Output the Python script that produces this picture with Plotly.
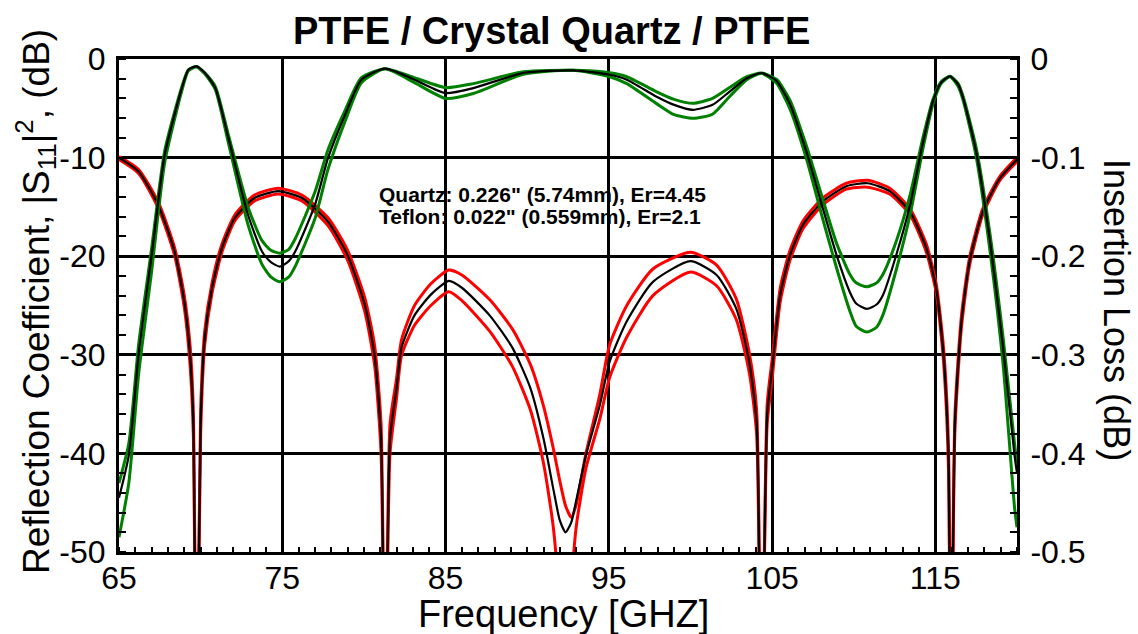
import plotly.graph_objects as go

# ---------------- data ----------------
# Reflection coefficient |S11|^2 (dB), left axis
REF_F = [65.0, 66.2, 67.4, 68.4, 69.0, 69.35, 69.55, 69.75, 70.0, 70.25, 70.7, 71.3, 72.1, 73.3,
         74.75, 76.2, 77.8, 79.0, 80.05, 80.65, 81.05, 81.3, 81.6, 82.0, 82.3, 83.1, 84.1, 85.2,
         86.0, 87.7, 89.1, 90.2, 91.0, 91.6, 92.0, 92.35, 92.7, 93.0, 93.6, 94.45, 95.05, 96.1, 97.7, 100.0,
         101.6, 102.8, 103.6, 104.05, 104.35, 104.7, 105.0, 105.5, 106.1, 106.9, 108.1, 109.55,
         110.85, 112.2, 113.45, 114.45, 115.05, 115.5, 115.8, 115.95, 116.2, 116.6, 117.1, 117.9,
         118.95, 120.0]
REF_MID = [-10.0, -11.4, -14.8, -19.5, -24.6, -30.0, -36.8, -70, -36.8, -28.3, -23.2, -19.2, -16.1, -14.1,
           -13.4, -14.1, -16.5, -19.9, -24.9, -30.0, -38.5, -70, -38.5, -33.4, -29.3, -26.0, -23.9, -22.5,
           -23.2, -26.0, -29.3, -33.4, -38.5, -43.6, -46.8, -48.0, -47.0, -44.8, -40.2, -35.1, -30.7, -26.6, -22.6, -20.5,
           -21.9, -25.3, -30.7, -36.8, -70, -36.0, -31.5, -23.9, -19.9, -16.8, -14.45, -12.9,
           -12.6, -13.4, -15.5, -19.2, -23.25, -30.0, -40.2, -70, -36.8, -26.6, -20.5, -15.5,
           -12.1, -10.2]
REF_HI = [-9.9, -11.2, -14.5, -19.1, -24.0, -29.0, -35.5, -70, -35.5, -27.6, -22.7, -18.8, -15.8, -13.8,
          -13.1, -13.8, -16.1, -19.4, -24.2, -29.0, -37.0, -70, -37.0, -32.4, -28.5, -25.0, -22.8, -21.4,
          -21.9, -24.4, -27.4, -31.0, -35.2, -39.5, -42.8, -45.3, -46.5, -45.2, -40.0, -34.0, -29.0, -25.0, -21.3, -19.6,
          -20.9, -24.3, -29.8, -35.5, -70, -35.0, -30.5, -23.2, -19.4, -16.4, -14.1, -12.6,
          -12.3, -13.1, -15.2, -18.8, -22.8, -29.3, -39.0, -70, -36.0, -26.0, -20.1, -15.2,
          -11.9, -10.0]
REF_LO = [-10.2, -11.6, -15.1, -19.9, -25.2, -31.0, -38.0, -70, -38.0, -29.0, -23.7, -19.6, -16.4, -14.4,
          -13.7, -14.4, -16.9, -20.4, -25.6, -31.0, -40.0, -70, -40.0, -34.4, -30.1, -27.0, -25.0, -23.6,
          -24.5, -27.6, -31.2, -35.6, -41.0, -47.5, -56.0, -70, -54.0, -47.5, -41.5, -36.5, -32.3, -28.2, -24.0, -21.6,
          -23.0, -26.4, -31.8, -38.0, -70, -37.0, -32.5, -24.6, -20.4, -17.2, -14.8, -13.2,
          -13.0, -13.7, -15.8, -19.6, -23.7, -30.7, -41.4, -70, -37.6, -27.2, -20.9, -15.8,
          -12.3, -10.4]

# Insertion loss (dB), right axis
IL_F = [65.0, 65.6, 66.2, 67.0, 67.8, 68.85, 69.25, 69.75, 70.25, 70.9, 71.7, 72.9, 73.75, 74.3, 74.85,
        75.4, 75.8, 77.0, 77.8, 78.85, 79.85, 81.3, 83.1, 85.0, 86.7, 89.75, 92.8, 95.05, 96.1, 97.9,
        99.0, 100.15, 101.35, 102.4, 103.45, 104.35, 104.85, 105.3, 106.1, 107.1, 108.1, 108.95, 109.75,
        110.15, 110.8, 111.4, 111.8, 112.6, 113.45, 114.25, 114.85, 115.35, 115.9, 116.4, 116.7, 117.5,
        118.35, 119.15, 119.85, 120.0]
IL_MID = [-0.445, -0.402, -0.300, -0.199, -0.097, -0.0295, -0.011, -0.0075, -0.014, -0.0295, -0.080,
          -0.158, -0.195, -0.206, -0.2105, -0.205, -0.195, -0.148, -0.1005, -0.0565, -0.021, -0.0098,
          -0.021, -0.0345, -0.0295, -0.0142, -0.0115, -0.016, -0.021, -0.038,
          -0.0465, -0.0515, -0.0465, -0.033, -0.0195, -0.0142, -0.0176, -0.0227, -0.046, -0.094, -0.151,
          -0.199, -0.236, -0.248, -0.2535, -0.249, -0.239, -0.199, -0.148, -0.084, -0.043, -0.024,
          -0.0176, -0.026, -0.0396, -0.094, -0.185, -0.293, -0.402, -0.42]
IL_HI = [-0.43, -0.39, -0.29, -0.192, -0.093, -0.028, -0.011, -0.0075, -0.014, -0.028, -0.077,
         -0.150, -0.184, -0.194, -0.197, -0.193, -0.182, -0.135, -0.092, -0.052, -0.019, -0.0098,
         -0.019, -0.029, -0.025, -0.013, -0.0115, -0.014, -0.018, -0.033,
         -0.041, -0.045, -0.040, -0.029, -0.018, -0.0142, -0.017, -0.021, -0.042, -0.088, -0.142,
         -0.187, -0.218, -0.227, -0.231, -0.227, -0.218, -0.185, -0.138, -0.079, -0.041, -0.023,
         -0.0176, -0.025, -0.038, -0.090, -0.178, -0.283, -0.39, -0.41]
IL_LO = [-0.485, -0.43, -0.32, -0.215, -0.105, -0.032, -0.012, -0.008, -0.015, -0.031, -0.085,
         -0.168, -0.208, -0.221, -0.226, -0.221, -0.210, -0.162, -0.112, -0.063, -0.024, -0.0100,
         -0.024, -0.040, -0.035, -0.0155, -0.0115, -0.018, -0.025, -0.045,
         -0.0565, -0.060, -0.056, -0.038, -0.021, -0.0145, -0.019, -0.025, -0.051, -0.101, -0.162,
         -0.212, -0.255, -0.271, -0.277, -0.272, -0.259, -0.214, -0.158, -0.090, -0.046, -0.025,
         -0.018, -0.028, -0.042, -0.099, -0.195, -0.31, -0.455, -0.475]

X_TICKS = [65, 75, 85, 95, 105, 115]
Y1_TICKS = [0, -10, -20, -30, -40, -50]
Y1_LABELS = ["0", "-10", "-20", "-30", "-40", "-50"]
Y2_TICKS = [0, -0.1, -0.2, -0.3, -0.4, -0.5]
Y2_LABELS = ["0", "-0.1", "-0.2", "-0.3", "-0.4", "-0.5"]

TITLE = "PTFE / Crystal Quartz / PTFE"
NOTE1 = "Quartz: 0.226\" (5.74mm), Er=4.45"
NOTE2 = "Teflon: 0.022\" (0.559mm), Er=2.1"

FONT = "Liberation Sans, Arial, Helvetica, sans-serif"
RED = "#FF0000"
GREEN = "#008000"

fig = go.Figure()

def add(x, y, color, width, axis):
    fig.add_trace(go.Scatter(x=x, y=y, mode="lines", yaxis=axis,
                             line=dict(color=color, width=width, shape="spline", smoothing=0.6),
                             hoverinfo="skip", showlegend=False))

add(REF_F, REF_HI, RED, 3, "y")
add(REF_F, REF_LO, RED, 3, "y")
add(REF_F, REF_MID, "black", 2.2, "y")
add(IL_F, IL_HI, GREEN, 3, "y2")
add(IL_F, IL_LO, GREEN, 3, "y2")
add(IL_F, IL_MID, "black", 2.2, "y2")

tickfont = dict(family=FONT, size=32, color="black")

fig.update_layout(
    width=1138, height=634, autosize=False,
    margin=dict(l=119, r=121, t=59, b=82),
    paper_bgcolor="white", plot_bgcolor="white",
    showlegend=False,
    xaxis=dict(range=[65, 120], tickvals=X_TICKS, ticktext=[str(v) for v in X_TICKS],
               showgrid=True, gridcolor="black", gridwidth=3,
               showline=True, linecolor="black", linewidth=3, mirror=True,
               ticks="", tickfont=tickfont, zeroline=False, ticklabelstandoff=-4,
               minor=dict(dtick=1, ticks="inside", ticklen=5, tickwidth=2,
                          tickcolor="black", showgrid=False)),
    yaxis=dict(range=[-50, 0], tickvals=Y1_TICKS, ticktext=Y1_LABELS,
               showgrid=True, gridcolor="black", gridwidth=3,
               showline=True, linecolor="black", linewidth=3,
               ticks="", tickfont=tickfont, zeroline=False, ticklabelstandoff=4,
               minor=dict(dtick=2, ticks="inside", ticklen=7, tickwidth=2,
                          tickcolor="black", showgrid=False)),
    yaxis2=dict(range=[-0.5, 0], overlaying="y", side="right",
                tickvals=Y2_TICKS, ticktext=Y2_LABELS,
                showgrid=False, showline=True, linecolor="black", linewidth=3,
                ticks="", tickfont=tickfont, zeroline=False, ticklabelstandoff=4,
                minor=dict(dtick=0.02, ticks="inside", ticklen=7, tickwidth=2,
                           tickcolor="black", showgrid=False)),
)

def ann(text, x, y, size, bold=False, angle=0, xanchor="center", yanchor="middle"):
    fig.add_annotation(text=f"<b>{text}</b>" if bold else text, x=x, y=y,
                       xref="paper", yref="paper", showarrow=False, textangle=angle,
                       xanchor=xanchor, yanchor=yanchor,
                       font=dict(family=FONT, size=size, color="black"))

def px(x):
    return (x - 119) / 898

def py(y):
    return (552 - y) / 493

ann(TITLE, px(551), py(31), 38, bold=True)
ann(NOTE1, px(377), py(194), 21, bold=True, xanchor="left")
ann(NOTE2, px(377), py(217), 21, bold=True, xanchor="left")
ann("Frequency [GHZ]", px(563), py(614), 38)
ann("Reflection Coefficient, |S<sub>11</sub>|<sup>2</sup>, (dB)", px(35), py(302), 37, angle=-90)
ann("Insertion Loss (dB)", px(1117), py(310), 36, angle=90)

fig.write_html("out.html")
